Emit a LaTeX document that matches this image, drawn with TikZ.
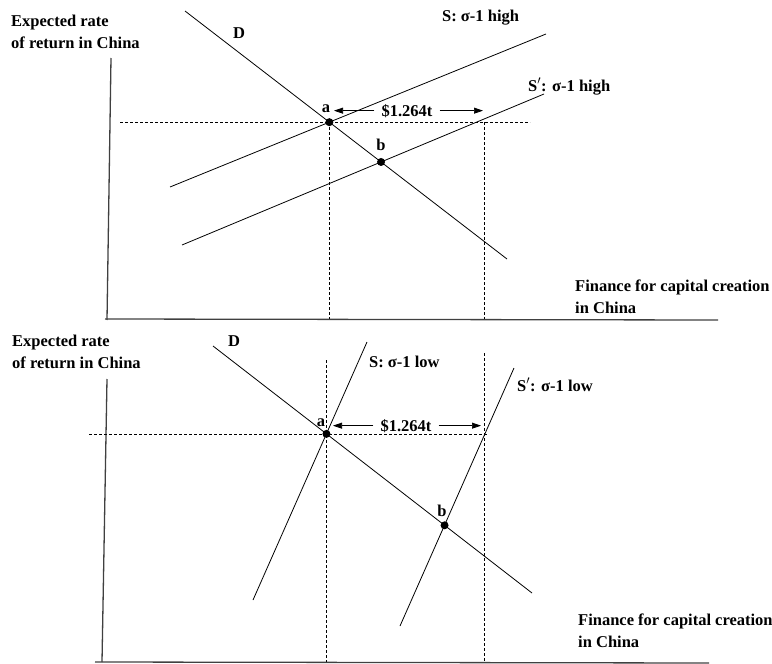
\documentclass[tikz,border=0pt]{standalone}
\usepackage{fontspec}
\setmainfont{Liberation Serif}
\usetikzlibrary{arrows.meta}
\begin{document}
\begin{tikzpicture}[x=1pt,y=-1pt,
  lbl/.style={font=\fontsize{16.5}{21.5}\selectfont\bfseries, inner sep=0pt},
  curve/.style={line width=0.8pt},
  axis/.style={line width=1.3pt, black!75},
  guide/.style={line width=0.7pt, dash pattern=on 3pt off 2pt},
  dot/.style={circle, fill, inner sep=0pt, minimum size=8pt},
  gap/.style={-{Triangle[length=9pt,width=6pt]}, line width=0.7pt}]
\useasboundingbox (0,0) rectangle (772,664);

% ---------- top panel ----------
\coordinate (Y1t) at (111,58);
\coordinate (Y1b) at (107,320);
\coordinate (X1l) at (105,319);
\coordinate (X1r) at (718,320);
\draw[axis] (Y1t) -- (Y1b);
\draw[axis] (X1l) -- (X1r);

\coordinate (D1s) at (185,11);
\coordinate (D1e) at (507,259);
\coordinate (S1s) at (170,187);
\coordinate (S1e) at (546,34);
\coordinate (T1s) at (182,245);
\coordinate (T1e) at (544,94);

\coordinate (a1) at (intersection of D1s--D1e and S1s--S1e);
\coordinate (b1) at (intersection of D1s--D1e and T1s--T1e);
\coordinate (h1l) at (120,0);
\coordinate (h1r) at (530,0);
\coordinate (h1c) at (484,0);
\coordinate (H1l) at (h1l |- a1);
\coordinate (H1r) at (h1r |- a1);
\coordinate (c1) at (h1c |- a1);

\draw[guide] (H1l) -- (H1r);
\draw[guide] (a1) -- (a1 |- X1l);
\draw[guide] (c1) -- (c1 |- X1l);

\draw[curve] (D1s) -- (D1e);
\draw[curve] (S1s) -- (S1e);
\draw[curve] (T1s) -- (T1e);

\node[dot] (pa1) at (a1) {};
\node[dot] (pb1) at (b1) {};

\node[lbl, anchor=west, align=left] (ylab1) at (11,32) {Expected rate\\of return in China};
\node[lbl, anchor=west, align=left] (xlab1) at (575,297) {Finance for capital creation\\in China};
\node[lbl, anchor=base] (dl1) at (239,38) {D};
\node[lbl, anchor=base west] (sl1) at (442,21) {S: σ-1 high};
\node[lbl, anchor=base west] (tl1) at (528,91) {S$'$: σ-1 high};
\node[lbl, anchor=base] (al1) at (326,112) {a};
\node[lbl, anchor=base] (bl1) at (381,150) {b};
\node[lbl, anchor=base, inner xsep=7pt] (g1) at (407,116) {\$1.264t};
\coordinate (g1l) at (334,0);
\coordinate (g1r) at (483,0);
\draw[gap] (g1.west) -- (g1.west -| g1l);
\draw[gap] (g1.east) -- (g1.east -| g1r);

% ---------- bottom panel ----------
\coordinate (Y2t) at (107,379);
\coordinate (Y2b) at (102,662);
\coordinate (X2l) at (95,662);
\coordinate (X2r) at (709,663);
\draw[axis] (Y2t) -- (Y2b);
\draw[axis] (X2l) -- (X2r);

\coordinate (D2s) at (213,346);
\coordinate (D2e) at (532,593);
\coordinate (S2s) at (253,600);
\coordinate (S2e) at (367,342);
\coordinate (T2s) at (400,626);
\coordinate (T2e) at (514,368);

\coordinate (a2) at (intersection of D2s--D2e and S2s--S2e);
\coordinate (b2) at (intersection of D2s--D2e and T2s--T2e);
\coordinate (h2l) at (89,0);
\coordinate (h2r) at (488,0);
\coordinate (h2c) at (484,0);
\coordinate (H2l) at (h2l |- a2);
\coordinate (H2r) at (h2r |- a2);
\coordinate (c2) at (h2c |- a2);
\coordinate (v2a) at (0,360);
\coordinate (v2c) at (0,353);

\draw[guide] (H2l) -- (H2r);
\draw[guide] (a2 |- v2a) -- (a2 |- X2l);
\draw[guide] (c2 |- v2c) -- (c2 |- X2l);

\draw[curve] (D2s) -- (D2e);
\draw[curve] (S2s) -- (S2e);
\draw[curve] (T2s) -- (T2e);

\node[dot] (pa2) at (a2) {};
\node[dot] (pb2) at (b2) {};

\node[lbl, anchor=west, align=left] (ylab2) at (12,352) {Expected rate\\of return in China};
\node[lbl, anchor=west, align=left] (xlab2) at (578,631) {Finance for capital creation\\in China};
\node[lbl, anchor=base] (dl2) at (234,346) {D};
\node[lbl, anchor=base west] (sl2) at (369,367) {S: σ-1 low};
\node[lbl, anchor=base west] (tl2) at (517,391) {S$'$: σ-1 low};
\node[lbl, anchor=base] (al2) at (321,426) {a};
\node[lbl, anchor=base] (bl2) at (442,516) {b};
\node[lbl, anchor=base, inner xsep=7pt] (g2) at (406,431) {\$1.264t};
\coordinate (g2l) at (333,0);
\coordinate (g2r) at (481,0);
\draw[gap] (g2.west) -- (g2.west -| g2l);
\draw[gap] (g2.east) -- (g2.east -| g2r);
\end{tikzpicture}
\end{document}
